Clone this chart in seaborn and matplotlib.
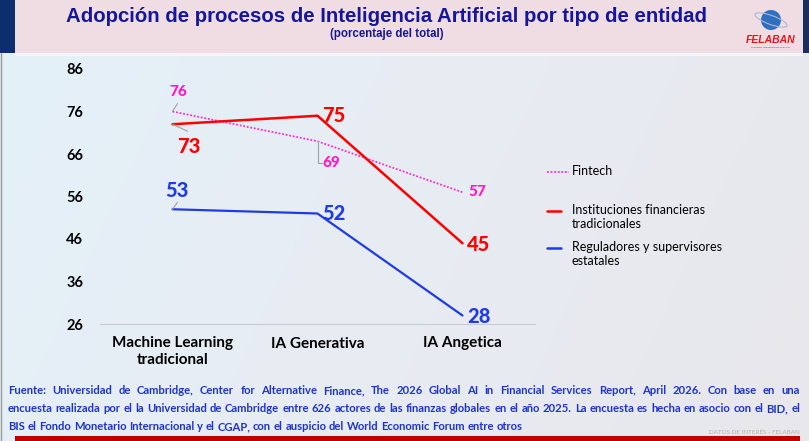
import numpy as np
import pandas as pd
import matplotlib
matplotlib.use("Agg")
import matplotlib.pyplot as plt
from matplotlib import font_manager
from matplotlib.colors import LinearSegmentedColormap
from matplotlib.patches import Rectangle, Circle, Ellipse
import seaborn as sns

# datos
categorias = ["Machine Learning\ntradicional", "IA Generativa", "IA Angetica"]
series = ["Fintech", "Instituciones financieras\ntradicionales", "Reguladores y supervisores\nestatales"]
fintech = [76, 69, 57]
instituciones = [73, 75, 45]
reguladores = [53, 52, 28]
yticks = [26, 36, 46, 56, 66, 76, 86]

titulo = "Adopción de procesos de Inteligencia Artificial por tipo de entidad"
subtitulo = "(porcentaje del total)"
fuente = [
    "Fuente: Universidad de Cambridge, Center for Alternative Finance, The 2026 Global AI in Financial Services Report, April 2026. Con base en una",
    "encuesta realizada por el la Universidad de Cambridge entre 626 actores de las finanzas globales en el año 2025. La encuesta es hecha en asocio con el BID, el",
    "BIS el Fondo Monetario Internacional y el CGAP, con el auspicio del World Economic Forum entre otros",
]

names = {f.name for f in font_manager.fontManager.ttflist}
narrow = "Liberation Sans Narrow" if "Liberation Sans Narrow" in names else "Liberation Sans"

sns.set_theme(style="white")
plt.rcParams["font.family"] = ["Lato", "DejaVu Sans"]

W, H = 809, 441
fig = plt.figure(figsize=(W / 100, H / 100), dpi=100)

# fondo, en pixeles
bg = fig.add_axes([0, 0, 1, 1], zorder=0)
bg.set_xlim(0, W)
bg.set_ylim(H, 0)
bg.axis("off")
cmap = LinearSegmentedColormap.from_list("bg", ["#e3f1f9", "#e8ecf3", "#e7e7ec"])
grad = np.linspace(0, 1, 256)[None, :] + np.linspace(0, 0.25, 64)[:, None]
bg.imshow(grad, cmap=cmap, extent=[0, W, H, 0], aspect="auto", vmin=0, vmax=1.25)
bg.add_patch(Rectangle((15, 0), 788, 53, color="#f0dde3", lw=0))
bg.add_patch(Rectangle((0, 0), 15, 53, color="#0d2e6e", lw=0))
bg.add_patch(Rectangle((803, 0), 6, 53, color="#1c2f5c", lw=0))
bg.add_patch(Rectangle((15, 53), 788, 3, color="#f4f6f9", lw=0))
bg.plot([1, 1], [53, 441], color="#9a9a9a", lw=1)
bg.add_patch(Rectangle((15, 436), 785, 5, color="#c00000", lw=0))
bg.set_xlim(0, W)
bg.set_ylim(H, 0)

bg.text(387, 16, titulo, ha="center", va="center", family=narrow,
        fontweight="bold", fontsize=14.7, color="#16169a")
bg.text(387, 34, subtitulo, ha="center", va="center", family=narrow,
        fontweight="bold", fontsize=8.3, color="#16169a")

# logo
bg.add_patch(Circle((771, 20), 10, color="#2f6fc0", lw=0))
bg.add_patch(Ellipse((771, 20), 34, 9, angle=20, fill=False, ec="#a8b8d0", lw=0.8))
bg.text(771, 40, "FELABAN", ha="center", va="center", fontsize=7.5,
        fontweight="bold", style="italic", color="#e0161c", family="Liberation Sans")
bg.text(771, 47, "Federación Latinoamericana de Bancos", ha="center", va="center",
        fontsize=1.6, color="#555555")


def justificar(linea, y, x0, x1, estirar, **kw):
    r = fig.canvas.get_renderer()
    palabras = linea.split()
    textos = [bg.text(0, y, p, ha="left", va="center", **kw) for p in palabras]
    anchos = [t.get_window_extent(r).width for t in textos]
    espacio = textos[0].get_window_extent(r).height * 0.25
    hueco = (x1 - x0 - sum(anchos)) / (len(palabras) - 1) if estirar else espacio
    pos = x0
    for t, w in zip(textos, anchos):
        t.set_x(pos)
        pos += w + hueco


# fuente
for i, linea in enumerate(fuente):
    justificar(linea, 391 + i * 18, 8, 800, i < 2, fontsize=8.1,
               fontweight="bold", color="#1f35c8")
bg.text(800, 432, "DATOS DE INTERÉS - FELABAN", ha="right", va="center",
        fontsize=4.5, color="#b0b0b8")

# grafico
ax = fig.add_axes([100 / W, (H - 324) / H, 435 / W, 255 / H], zorder=2)
ax.patch.set_alpha(0)
x = np.arange(len(categorias))
df = pd.DataFrame({"pos": np.tile(x, 3),
                   "valor": fintech + instituciones + reguladores,
                   "serie": np.repeat(series, 3)})

colores = {series[0]: "#ff2bd0", series[1]: "#ff0000", series[2]: "#1f3be6"}
estilos = {series[0]: (0, (1, 1)), series[1]: "-", series[2]: "-"}
anchos = {series[0]: 1.3, series[1]: 1.8, series[2]: 1.6}
for s in series:
    d = df[df["serie"] == s]
    sns.lineplot(data=d, x="pos", y="valor", ax=ax, color=colores[s],
                 linestyle=estilos[s], linewidth=anchos[s], legend=False)

ax.set_xlim(-0.5, 2.5)
ax.set_ylim(26, 86)
ax.set_yticks(yticks)
ax.set_xticks(x)
ax.set_xticklabels(categorias, fontweight="bold", fontsize=11, linespacing=1.2)
ax.set_yticklabels(yticks, fontweight="bold", fontsize=10.5)
ax.set_xlabel("")
ax.set_ylabel("")
ax.tick_params(axis="y", length=0, pad=12, colors="black")
ax.tick_params(axis="x", length=0, pad=9, colors="black")
for sp in ["top", "right", "left"]:
    ax.spines[sp].set_visible(False)
ax.spines["bottom"].set_color("#c8ccd2")
ax.spines["bottom"].set_linewidth(0.8)
ax.spines["bottom"].set_zorder(0)

# etiquetas de datos (desplazamiento en pixeles)
desp = {
    series[0]: [(6, 19), (14, -22), (15, 0)],
    series[1]: [(16, -22), (16, 0), (16, -1)],
    series[2]: [(4, 19), (16, 0), (16, -1)],
}
tam = {series[0]: 11, series[1]: 14.5, series[2]: 14.5}
etiq_col = {series[0]: "#ff18c8", series[1]: "#ff0000", series[2]: "#1f3be6"}
for s, vals in zip(series, [fintech, instituciones, reguladores]):
    for xi, v, off in zip(x, vals, desp[s]):
        ax.annotate(str(v), (xi, v), xytext=off, textcoords="offset pixels",
                    ha="center", va="center", fontsize=tam[s], fontweight=900,
                    color=etiq_col[s], annotation_clip=False)

# lineas guia
guia = dict(arrowstyle="-", color="#a0a0a0", lw=0.8, shrinkA=0, shrinkB=0)
ax.annotate("", (x[0], fintech[0]), xytext=(5, 8), textcoords="offset pixels", arrowprops=guia)
ax.annotate("", (x[0], instituciones[0]), xytext=(15, -7), textcoords="offset pixels", arrowprops=guia)
ax.annotate("", (x[0], reguladores[0]), xytext=(5, 7), textcoords="offset pixels", arrowprops=guia)
ax.annotate("", (x[1], fintech[1]), xytext=(4, -22), textcoords="offset pixels",
            arrowprops=dict(guia, connectionstyle="angle,angleA=0,angleB=90,rad=0"))

# leyenda
ley_y = [172, 211, 248]
for s, yy in zip(series, ley_y):
    x1 = 569 if s == series[0] else 561
    bg.plot([547, x1], [yy, yy], color=colores[s], linestyle=estilos[s],
            lw=1.3 if s == series[0] else 1.8)
    bg.text(572, yy - 7, s, ha="left", va="top", fontsize=9, color="black",
            linespacing=1.2)
bg.set_xlim(0, W)
bg.set_ylim(H, 0)

fig.savefig("out.png", dpi=100)
